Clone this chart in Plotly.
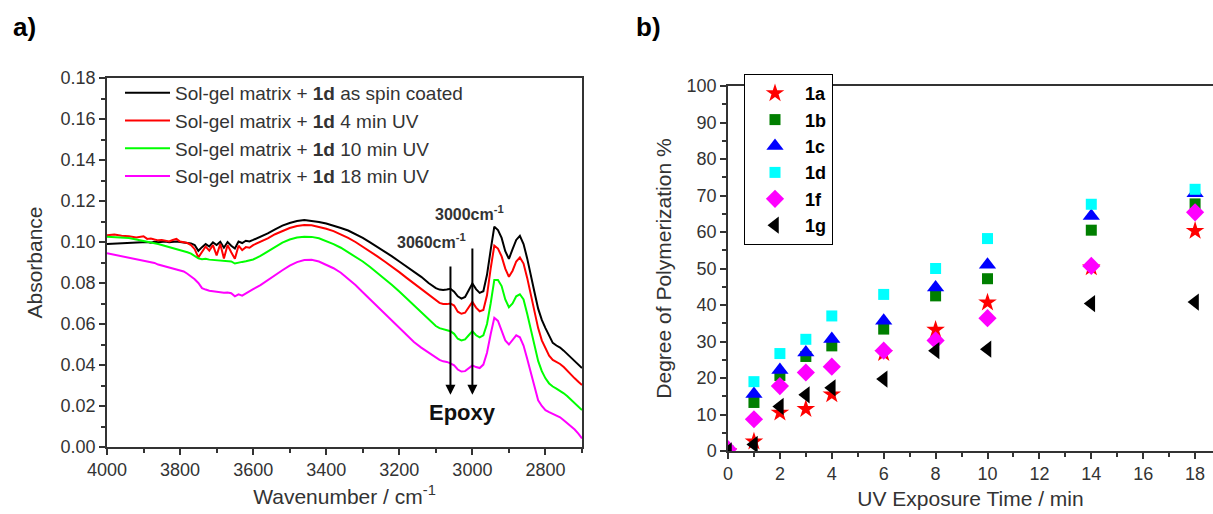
import plotly.graph_objects as go

# ---------------- panel a) FTIR spectra ----------------
wavenumber = [
    4000, 3980, 3960, 3940, 3920, 3900,
    3890, 3880, 3870, 3860, 3850, 3840, 3830, 3820, 3810, 3800,
    3790, 3780, 3770, 3760, 3750, 3740, 3730, 3720, 3710, 3700,
    3690, 3680, 3670, 3660, 3650, 3640, 3630, 3620, 3610,
    3600, 3580, 3560, 3540, 3520, 3500, 3480, 3460, 3440, 3420,
    3400, 3380, 3360, 3340, 3320, 3300, 3280, 3260, 3240, 3220,
    3200, 3180, 3160, 3140, 3120,
    3100, 3090, 3080, 3070, 3060, 3050, 3040, 3030, 3020, 3010,
    3000, 2990, 2980, 2970, 2960, 2950, 2940, 2930, 2920, 2910,
    2900, 2890, 2880, 2870, 2860, 2850, 2840, 2830, 2820, 2810,
    2800, 2790, 2780, 2770, 2760, 2750, 2740, 2730, 2720, 2710,
    2700,
]

abs_spin_coated = [
    0.0990, 0.0992, 0.0995, 0.0997, 0.0996, 0.0998,
    0.1000, 0.0997, 0.1001, 0.0999, 0.1000, 0.1002, 0.0999, 0.1001, 0.1003, 0.1000,
    0.0998, 0.0996, 0.0993, 0.0985, 0.0957, 0.0975, 0.0990, 0.0978, 0.0998, 0.0985,
    0.1001, 0.0972, 0.1000, 0.0982, 0.0968, 0.1002, 0.0995, 0.1006, 0.1003,
    0.1010, 0.1025, 0.1042, 0.1062, 0.1080, 0.1093, 0.1102, 0.1107, 0.1104, 0.1098,
    0.1090, 0.1080, 0.1068, 0.1056, 0.1040, 0.1020, 0.0998, 0.0976, 0.0953, 0.0930,
    0.0905, 0.0880, 0.0855, 0.0830, 0.0800,
    0.0775, 0.0768, 0.0766, 0.0768, 0.0772, 0.0758, 0.0735, 0.0724, 0.0732, 0.0765,
    0.0798, 0.0770, 0.0752, 0.0760, 0.0840, 0.0960, 0.1075, 0.1058, 0.1020, 0.0955,
    0.0918, 0.0965, 0.1010, 0.1030, 0.0990, 0.0920, 0.0831, 0.0755, 0.0675, 0.0620,
    0.0580, 0.0540, 0.0508, 0.0495, 0.0485, 0.0470, 0.0452, 0.0435, 0.0418, 0.0400,
    0.0385,
]

abs_4min = [
    0.1033, 0.1036, 0.1030, 0.1028, 0.1022, 0.1028,
    0.1015, 0.1017, 0.1012, 0.1008, 0.1010, 0.1006, 0.1003, 0.1010, 0.1015, 0.1002,
    0.0998, 0.0995, 0.0985, 0.0965, 0.0925, 0.0955, 0.0978, 0.0958, 0.0985, 0.0935,
    0.0990, 0.0920, 0.0985, 0.0950, 0.0918, 0.0982, 0.0960, 0.0975, 0.0972,
    0.0985, 0.1000, 0.1018, 0.1038, 0.1055, 0.1068, 0.1078, 0.1083, 0.1082, 0.1075,
    0.1065, 0.1053, 0.1038, 0.1020, 0.1000, 0.0978, 0.0955, 0.0930, 0.0905, 0.0880,
    0.0853, 0.0825, 0.0797, 0.0770, 0.0745,
    0.0715, 0.0703, 0.0698, 0.0697, 0.0700, 0.0690, 0.0660, 0.0650, 0.0655, 0.0682,
    0.0708, 0.0680, 0.0662, 0.0668, 0.0740, 0.0870, 0.0982, 0.0968, 0.0930, 0.0870,
    0.0830, 0.0860, 0.0905, 0.0925, 0.0895, 0.0825, 0.0740, 0.0660, 0.0580, 0.0520,
    0.0480, 0.0445, 0.0425, 0.0415, 0.0405, 0.0390, 0.0370, 0.0352, 0.0335, 0.0318,
    0.0302,
]

abs_10min = [
    0.1026, 0.1024, 0.1021, 0.1019, 0.1012, 0.1006,
    0.1002, 0.0999, 0.0994, 0.0990, 0.0985, 0.0981, 0.0976, 0.0971, 0.0966, 0.0962,
    0.0957, 0.0950, 0.0943, 0.0932, 0.0920, 0.0916, 0.0918, 0.0914, 0.0912, 0.0910,
    0.0909, 0.0908, 0.0906, 0.0905, 0.0895, 0.0900, 0.0903, 0.0906, 0.0910,
    0.0915, 0.0932, 0.0955, 0.0978, 0.0997, 0.1012, 0.1022, 0.1026, 0.1025, 0.1018,
    0.1005, 0.0990, 0.0972, 0.0950, 0.0928, 0.0905, 0.0878, 0.0850, 0.0820, 0.0790,
    0.0758, 0.0725, 0.0690, 0.0655, 0.0625,
    0.0590, 0.0580, 0.0574, 0.0571, 0.0565, 0.0552, 0.0528, 0.0520, 0.0525, 0.0545,
    0.0565, 0.0545, 0.0535, 0.0545, 0.0600, 0.0700, 0.0815, 0.0815, 0.0785, 0.0720,
    0.0682, 0.0700, 0.0735, 0.0745, 0.0720, 0.0650, 0.0570, 0.0490, 0.0420, 0.0370,
    0.0335, 0.0310, 0.0295, 0.0285, 0.0275, 0.0262, 0.0248, 0.0230, 0.0212, 0.0196,
    0.0180,
]

abs_18min = [
    0.0945, 0.0938, 0.0932, 0.0925, 0.0918, 0.0912,
    0.0908, 0.0904, 0.0898, 0.0890, 0.0885, 0.0880, 0.0876, 0.0872, 0.0867, 0.0862,
    0.0856, 0.0845, 0.0832, 0.0818, 0.0800, 0.0775, 0.0768, 0.0762, 0.0760, 0.0757,
    0.0755, 0.0752, 0.0754, 0.0750, 0.0735, 0.0745, 0.0738, 0.0750, 0.0760,
    0.0770, 0.0790, 0.0815, 0.0838, 0.0862, 0.0885, 0.0902, 0.0912, 0.0913, 0.0905,
    0.0890, 0.0872, 0.0850, 0.0820, 0.0790, 0.0755, 0.0720, 0.0685, 0.0650, 0.0615,
    0.0578, 0.0545, 0.0512, 0.0485, 0.0460,
    0.0435, 0.0425, 0.0418, 0.0415, 0.0408, 0.0398, 0.0378, 0.0368, 0.0370, 0.0385,
    0.0398, 0.0390, 0.0385, 0.0402, 0.0460, 0.0550, 0.0630, 0.0615, 0.0570, 0.0520,
    0.0500, 0.0520, 0.0545, 0.0535, 0.0495, 0.0430, 0.0360, 0.0285, 0.0228, 0.0200,
    0.0180, 0.0170, 0.0163, 0.0155, 0.0145, 0.0130, 0.0115, 0.0102, 0.0085, 0.0065,
    0.0042,
]

spectra_names = [
    "Sol-gel matrix + <b>1d</b> as spin coated",
    "Sol-gel matrix + <b>1d</b> 4 min UV",
    "Sol-gel matrix + <b>1d</b> 10 min UV",
    "Sol-gel matrix + <b>1d</b> 18 min UV",
]
spectra_values = [abs_spin_coated, abs_4min, abs_10min, abs_18min]
spectra_colors = ["#000000", "#FF0000", "#00FF00", "#FF00FF"]

# epoxy band positions marked with arrows
epoxy_bands = [3060, 3000]
epoxy_arrow_tops = [0.0888, 0.0976]
epoxy_arrow_tip = 0.0255

# ---------------- panel b) degree of polymerization ----------------
uv_time = [0, 1, 2, 3, 4, 6, 8, 10, 14, 18]
dp_1a = [0, 2.6, 10.5, 11.5, 15.5, 26.8, 33.2, 40.7, 50.3, 60.3]
dp_1b = [0, 13.3, 20.7, 25.9, 28.8, 33.4, 42.5, 47.2, 60.5, 67.7]
dp_1c = [0, 15.6, 22.2, 27.0, 30.7, 35.7, 44.8, 51.0, 64.4, 70.6]
dp_1d = [0, 19.0, 26.7, 30.6, 37.0, 42.9, 50.0, 58.2, 67.6, 71.7]
dp_1f = [0.5, 8.7, 17.8, 21.5, 23.1, 27.5, 30.3, 36.4, 50.7, 65.4]
dp_1g = [0, 1.8, 12.2, 15.4, 17.3, 19.7, 27.5, 27.9, 40.4, 40.8]

dp_names = ["1a", "1b", "1c", "1d", "1f", "1g"]
dp_values = [dp_1a, dp_1b, dp_1c, dp_1d, dp_1f, dp_1g]
dp_colors = ["#FF0000", "#007F00", "#0000FF", "#00FFFF", "#FF00FF", "#000000"]
dp_symbols = ["star", "square", "triangle-up", "square", "diamond", "triangle-left"]
dp_sizes = [14, 11, 15, 11, 14, 15]

FONT = "Liberation Sans, Arial, sans-serif"
AXIS_COLOR = "#333333"
W, H = 1213, 514

fig = go.Figure()

for name, vals, col in zip(spectra_names, spectra_values, spectra_colors):
    fig.add_trace(go.Scatter(
        x=wavenumber, y=vals, mode="lines", name=name,
        line=dict(color=col, width=2), xaxis="x", yaxis="y", legend="legend",
    ))

for name, vals, col, sym, sz in zip(dp_names, dp_values, dp_colors, dp_symbols, dp_sizes):
    fig.add_trace(go.Scatter(
        x=uv_time, y=vals, mode="markers", name=f"<b>{name}</b>",
        marker=dict(color=col, symbol=sym, size=sz, line=dict(width=0)),
        xaxis="x2", yaxis="y2", legend="legend2",
    ))

axis_common = dict(
    showgrid=False, zeroline=False, showline=True, linecolor=AXIS_COLOR, linewidth=1.5,
    ticks="outside", ticklen=6, tickwidth=1.5, tickcolor=AXIS_COLOR, automargin=False,
    tickfont=dict(family=FONT, size=18, color=AXIS_COLOR),
)

def px_x(p):
    return p / W

def px_y(p):
    return 1 - p / H

fig.update_layout(
    width=W, height=H,
    margin=dict(l=0, r=0, t=0, b=0, autoexpand=False),
    paper_bgcolor="white", plot_bgcolor="white",
    font=dict(family=FONT, color=AXIS_COLOR),
    xaxis=dict(
        axis_common, domain=[px_x(107), px_x(582)], range=[4000, 2700],
        tickvals=[4000, 3800, 3600, 3400, 3200, 3000, 2800], mirror=True,
        minor=dict(dtick=100, ticklen=4, tickcolor=AXIS_COLOR, ticks="outside"),
        title=dict(text="Wavenumber / cm<sup>-1</sup>", font=dict(size=21), standoff=10),
        anchor="y",
    ),
    yaxis=dict(
        axis_common, domain=[px_y(447), px_y(78)], range=[0, 0.18],
        dtick=0.02, tickformat=".2f", mirror=True,
        minor=dict(dtick=0.01, ticklen=4, tickcolor=AXIS_COLOR, ticks="outside"),
        title=dict(text="Absorbance", font=dict(size=21), standoff=12),
        anchor="x",
    ),
    xaxis2=dict(
        axis_common, domain=[px_x(728), 1.0], range=[0, 18.69],
        dtick=2, mirror=True,
        minor=dict(dtick=1, ticklen=4, tickcolor=AXIS_COLOR, ticks="outside"),
        title=dict(text="UV Exposure Time / min", font=dict(size=21), standoff=8),
        anchor="y2",
    ),
    yaxis2=dict(
        axis_common, domain=[px_y(451), px_y(86)], range=[0, 100],
        dtick=10,
        minor=dict(dtick=5, ticklen=4, tickcolor=AXIS_COLOR, ticks="outside"),
        title=dict(text="Degree of Polymerization %", font=dict(size=21), standoff=9),
        anchor="x2",
    ),
    legend=dict(
        x=px_x(120), y=px_y(74), xanchor="left", yanchor="top",
        bgcolor="rgba(0,0,0,0)", borderwidth=0,
        font=dict(family=FONT, size=19, color=AXIS_COLOR), itemwidth=45,
    ),
    legend2=dict(
        x=px_x(744), y=px_y(74), xanchor="left", yanchor="top",
        bgcolor="white", bordercolor="#000000", borderwidth=1,
        font=dict(family=FONT, size=18, color="#000000"), itemwidth=50,
    ),
    showlegend=True,
)

annotations = [
    dict(text="<b>a)</b>", xref="paper", yref="paper", x=px_x(24), y=px_y(27),
         xanchor="center", yanchor="middle", showarrow=False,
         font=dict(family=FONT, size=26, color="#000000")),
    dict(text="<b>b)</b>", xref="paper", yref="paper", x=px_x(648), y=px_y(27),
         xanchor="center", yanchor="middle", showarrow=False,
         font=dict(family=FONT, size=26, color="#000000")),
    dict(text=f"<b>{epoxy_bands[1]}cm<sup>-1</sup></b>", xref="x", yref="y", x=3008, y=0.1141,
         xanchor="center", yanchor="middle", showarrow=False,
         font=dict(family=FONT, size=16, color=AXIS_COLOR)),
    dict(text=f"<b>{epoxy_bands[0]}cm<sup>-1</sup></b>", xref="x", yref="y", x=3112, y=0.1005,
         xanchor="center", yanchor="middle", showarrow=False,
         font=dict(family=FONT, size=16, color=AXIS_COLOR)),
    dict(text="<b>Epoxy</b>", xref="x", yref="y", x=3026, y=0.0166,
         xanchor="center", yanchor="middle", showarrow=False,
         font=dict(family=FONT, size=22, color="#111111")),
]
for band, top in zip(epoxy_bands, epoxy_arrow_tops):
    annotations.append(dict(
        x=band, y=epoxy_arrow_tip, ax=band, ay=top, xref="x", yref="y", axref="x", ayref="y",
        text="", showarrow=True, arrowhead=2, arrowsize=1, arrowwidth=2,
        arrowcolor="#000000", standoff=0,
    ))
fig.update_layout(annotations=annotations)

fig.write_html("out.html")
